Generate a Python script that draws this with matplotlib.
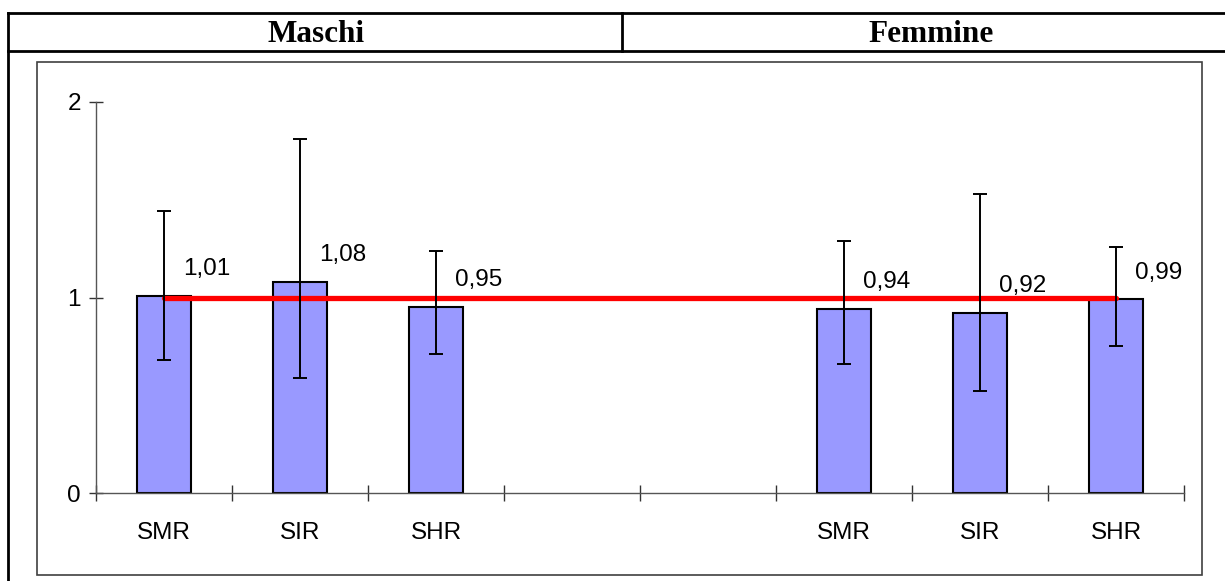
import numpy as np
import matplotlib
matplotlib.use('Agg')
import matplotlib.pyplot as plt
from matplotlib.lines import Line2D
from matplotlib.patches import Rectangle

# Data
categories = ['SMR', 'SIR', 'SHR', '', '', 'SMR', 'SIR', 'SHR']
values = [1.01, 1.08, 0.95, np.nan, np.nan, 0.94, 0.92, 0.99]
ci_low = [0.68, 0.59, 0.71, np.nan, np.nan, 0.66, 0.52, 0.75]
ci_high = [1.44, 1.81, 1.24, np.nan, np.nan, 1.29, 1.53, 1.26]
groups = ['Maschi', 'Femmine']
reference = 1.0
y_ticks = [0, 1, 2]

W, H, DPI = 1225, 581, 100
plt.rcParams['font.family'] = ['Liberation Sans', 'DejaVu Sans']

fig = plt.figure(figsize=(W / DPI, H / DPI), dpi=DPI)
fig.patch.set_facecolor('white')


def fx(px):
    return px / W


def fy(py):
    return 1 - py / H


# table header lines
tbl_lw = 2.0
for y in (13, 51):
    fig.add_artist(Line2D([fx(8), 1.0], [fy(y), fy(y)], color='black', lw=tbl_lw))
fig.add_artist(Line2D([fx(8), fx(8)], [fy(13), 0.0], color='black', lw=tbl_lw))
fig.add_artist(Line2D([fx(622), fx(622)], [fy(13), fy(51)], color='black', lw=tbl_lw))
for name, cx in zip(groups, (316, 931)):
    fig.text(fx(cx), fy(42), name, ha='center', va='baseline', fontsize=22.5,
             fontweight='bold', family=['Liberation Serif', 'DejaVu Serif'])

# chart frame
fig.add_artist(Rectangle((fx(37), fy(575)), fx(1202) - fx(37), fy(62) - fy(575),
                         transform=fig.transFigure, fill=False,
                         edgecolor='#404040', lw=1.2))

# axes: x from -0.5 to 7.5 maps to 96..1184 px, y 0..2 maps to 493..102 px
ax = fig.add_axes([fx(96), fy(493), fx(1184) - fx(96), fy(102) - fy(493)])
ax.set_xlim(-0.5, len(categories) - 0.5)
ax.set_ylim(0, 2)
ax.patch.set_alpha(0)

x = np.arange(len(categories))
vals = np.array(values)
mask = ~np.isnan(vals)
xb = x[mask]
vb = vals[mask]
lo = vb - np.array(ci_low)[mask]
hi = np.array(ci_high)[mask] - vb

ax.bar(xb, vb, width=0.4, color='#9999FF', edgecolor='black', lw=1.5, zorder=2)
ax.plot([xb[0], xb[-1]], [reference, reference], color='#FF0000', lw=3.8,
        solid_capstyle='round', zorder=3)
ax.errorbar(xb, vb, yerr=[lo, hi], fmt='none', ecolor='black', elinewidth=1.4,
            capsize=5.3, capthick=1.4, zorder=4)

for xi, v in zip(xb, vb):
    ax.annotate(f'{v:.2f}'.replace('.', ','), (xi, v), xytext=(14, 15),
                textcoords='offset points', ha='left', va='baseline',
                fontsize=17.5, zorder=5)

for s in ('top', 'right'):
    ax.spines[s].set_visible(False)
for s in ('left', 'bottom'):
    ax.spines[s].set_color('#555555')
    ax.spines[s].set_linewidth(1.0)

ax.set_yticks(y_ticks)
ax.set_yticklabels([str(t) for t in y_ticks])
ax.tick_params(axis='y', direction='inout', length=9.5, width=1.0,
               color='#333333', labelsize=17.5, pad=6)

ax.set_xticks(np.arange(-0.5, len(categories), 1.0))
ax.set_xticklabels([])
ax.set_xticks(x, minor=True)
ax.set_xticklabels(categories, minor=True)
ax.tick_params(axis='x', which='major', direction='inout', length=11,
               width=1.0, color='#333333')
ax.tick_params(axis='x', which='minor', length=0, labelsize=17.5, pad=21)

fig.savefig('out.png', dpi=DPI, facecolor='white')
